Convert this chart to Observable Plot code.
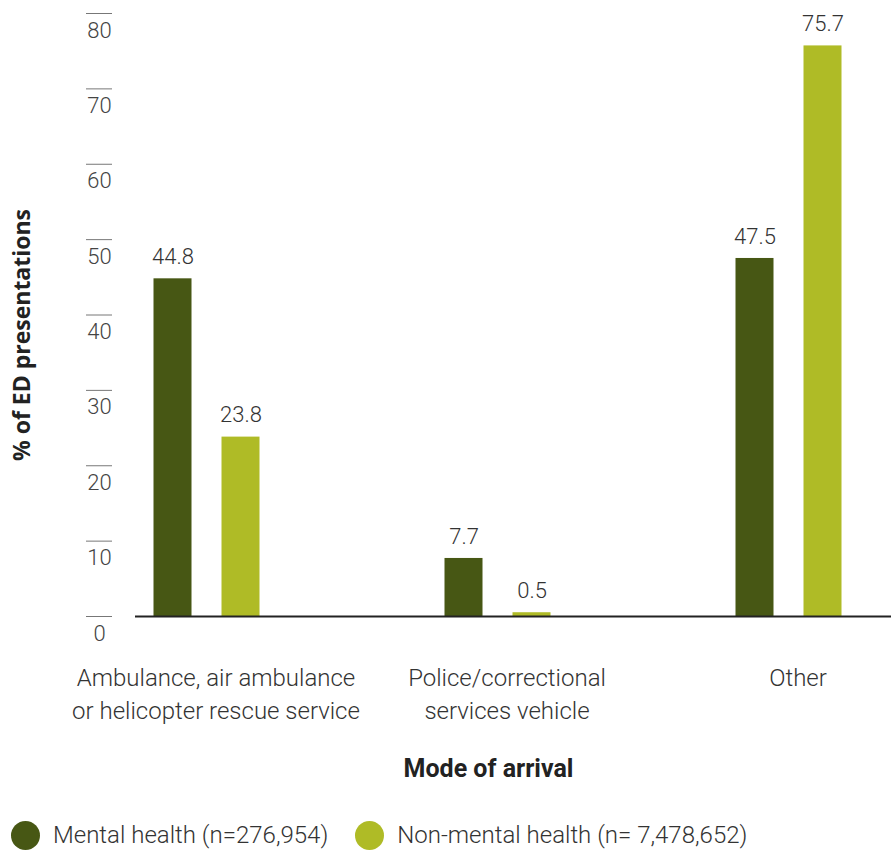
<!DOCTYPE html>
<html>
<head>
<meta charset="utf-8">
<script src="https://cdn.jsdelivr.net/npm/d3@7"></script>
<script src="https://cdn.jsdelivr.net/npm/@observablehq/plot@0.6"></script>
<style>
  body { margin: 0; background: #fff; font-family: Roboto, "Noto Sans", sans-serif; }
  #chart svg { display: block; overflow: visible; }
  .legend { display: flex; align-items: center; height: 50px; margin-top: 10px; font-size: 24px; font-weight: 300; color: #333; }
  .legend .sw { width: 29px; height: 29px; border-radius: 50%; display: inline-block; margin-left: 11px; margin-right: 13px; }
  .legend .item { display: flex; align-items: center; margin-right: 16px; }
</style>
</head>
<body>
<div id="chart"></div>
<script>
// Mode of arrival categories and their axis labels
const categories = [
  "Ambulance, air ambulance or helicopter rescue service",
  "Police/correctional services vehicle",
  "Other"
];
const categoryLabels = [
  "Ambulance, air ambulance\nor helicopter rescue service",
  "Police/correctional\nservices vehicle",
  "Other"
];
const seriesNames = ["Mental health", "Non-mental health"];
const legendLabels = ["Mental health (n=276,954)", "Non-mental health (n= 7,478,652)"];
// Percent of ED presentations
const mentalHealth = [44.8, 7.7, 47.5];
const nonMentalHealth = [23.8, 0.5, 75.7];
const yTicks = [0, 10, 20, 30, 40, 50, 60, 70, 80];
const colors = ["#475714", "#afbb26"];

const rows = categories.flatMap((c, i) => [
  {category: c, series: seriesNames[0], value: mentalHealth[i]},
  {category: c, series: seriesNames[1], value: nonMentalHealth[i]}
]);
const labelOf = new Map(categories.map((c, i) => [c, categoryLabels[i]]));
const mh = rows.filter(d => d.series === seriesNames[0]);
const nmh = rows.filter(d => d.series === seriesNames[1]);

const halfGap = 34;
const barInset = 126.5;
const fmt = d => d.toFixed(1);

const chart = Plot.plot({
  width: 891,
  height: 800,
  marginLeft: 135,
  marginRight: 0,
  marginTop: 13,
  marginBottom: 184,
  style: {fontFamily: "Roboto, sans-serif", fontSize: "20px", color: "#333", background: "#fff"},
  x: {domain: categories, range: [60.5, 934.5], padding: 0, label: null},
  y: {domain: [0, 80], label: null},
  color: {domain: seriesNames, range: colors},
  marks: [
    Plot.barY(mh, {x: "category", y: "value", fill: colors[0], dx: -halfGap, insetLeft: barInset, insetRight: barInset}),
    Plot.barY(nmh, {x: "category", y: "value", fill: colors[1], dx: halfGap, insetLeft: barInset, insetRight: barInset}),
    Plot.text(mh, {x: "category", y: "value", text: d => fmt(d.value), dx: -halfGap, dy: -22, lineAnchor: "middle", fontSize: 22, fontWeight: 300, fill: "#333"}),
    Plot.text(nmh, {x: "category", y: "value", text: d => fmt(d.value), dx: halfGap, dy: -22, lineAnchor: "middle", fontSize: 22, fontWeight: 300, fill: "#333"}),
    Plot.ruleY([0], {stroke: "#222", strokeWidth: 2}),
    // short tick strokes sitting above each y label
    Plot.axisY({ticks: yTicks, tickSize: 26, dx: -23, tickFormat: () => "", stroke: "#777", strokeOpacity: 1, label: null}),
    Plot.axisY({ticks: yTicks, tickSize: 0, tickPadding: -13, dx: -49, dy: 17, textAnchor: "middle", fontSize: 22, fontWeight: 300, fill: "#444", label: null}),
    Plot.axisX({tickSize: 0, tickPadding: 46, dx: 9, tickFormat: d => labelOf.get(d), fontSize: 24, fontWeight: 300, lineHeight: 1.375, fill: "#333", label: null}),
    Plot.text(["Mode of arrival"], {frameAnchor: "bottom", dx: -25, dy: 160, fontSize: 25, fontWeight: "bold", fill: "#222"}),
    Plot.text(["% of ED presentations"], {frameAnchor: "left", textAnchor: "middle", rotate: -90, dx: -113, dy: 20, fontSize: 23, fontWeight: "bold", fill: "#222", fontFamily: "'Open Sans', sans-serif"})
  ]
});
document.getElementById("chart").appendChild(chart);

// Legend below the chart
const legend = document.createElement("div");
legend.className = "legend";
seriesNames.forEach((s, i) => {
  const item = document.createElement("span");
  item.className = "item";
  const sw = document.createElement("span");
  sw.className = "sw";
  sw.style.background = colors[i];
  const txt = document.createElement("span");
  txt.textContent = legendLabels[i];
  item.append(sw, txt);
  legend.append(item);
});
document.body.appendChild(legend);
</script>
</body>
</html>
